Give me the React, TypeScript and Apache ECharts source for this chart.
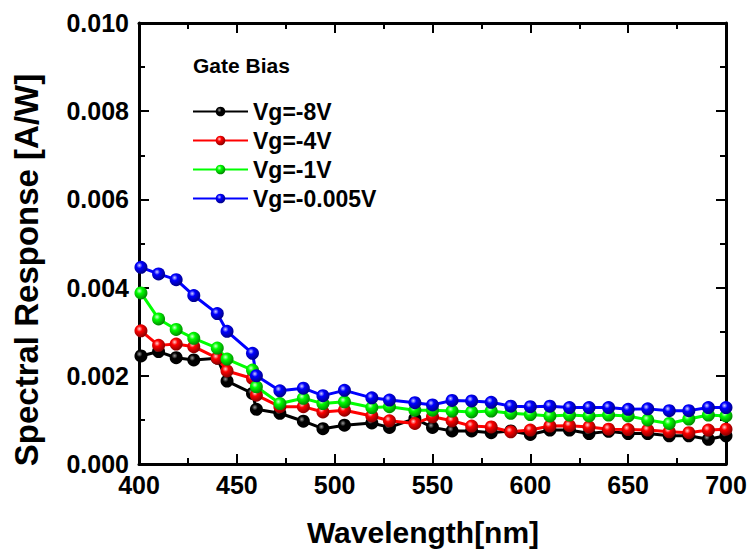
import React, { useEffect, useRef } from "react";
import * as echarts from "echarts";

const wavelengths = [401, 410, 419, 428, 440, 445, 458, 460, 472, 484, 494, 505, 519, 528, 541, 550, 560, 570, 580, 590, 600, 610, 620, 630, 640, 650, 660, 671, 681, 691, 700];

const vg8 = [0.00245, 0.00255, 0.00241, 0.00236, 0.0024, 0.00188, 0.0016, 0.00124, 0.00115, 0.00097, 0.0008, 0.00088, 0.00093, 0.00083, 0.00103, 0.00083, 0.00075, 0.00075, 0.00071, 0.00075, 0.00067, 0.00077, 0.00077, 0.00069, 0.00074, 0.00069, 0.00069, 0.00064, 0.00064, 0.00056, 0.00064];
const vg4 = [0.00302, 0.00269, 0.00272, 0.00266, 0.0024, 0.00211, 0.00194, 0.00156, 0.0013, 0.0013, 0.00118, 0.00122, 0.00109, 0.00098, 0.00092, 0.00107, 0.00098, 0.00086, 0.00084, 0.00073, 0.00077, 0.00086, 0.00087, 0.00084, 0.00079, 0.00078, 0.00077, 0.00073, 0.00071, 0.00077, 0.00079];
const vg1 = [0.00388, 0.00329, 0.00305, 0.00285, 0.00263, 0.00238, 0.00213, 0.00175, 0.00137, 0.00149, 0.00137, 0.00141, 0.00128, 0.0013, 0.00122, 0.00122, 0.0012, 0.00118, 0.0012, 0.00115, 0.00112, 0.00109, 0.00111, 0.00109, 0.00111, 0.00109, 0.001, 0.00092, 0.00102, 0.00111, 0.00109];
const vg0005 = [0.00446, 0.00431, 0.00418, 0.00382, 0.00341, 0.00301, 0.00251, 0.002, 0.00166, 0.00172, 0.00155, 0.00167, 0.0015, 0.00145, 0.00139, 0.00134, 0.00144, 0.00143, 0.0014, 0.00131, 0.0013, 0.00131, 0.00128, 0.00128, 0.00128, 0.00124, 0.00125, 0.00121, 0.00121, 0.00128, 0.00128];

const seriesNames = ["Vg=-8V", "Vg=-4V", "Vg=-1V", "Vg=-0.005V"];
const seriesColors = ["#000000", "#ff0000", "#00ff00", "#0000ff"];
const seriesDark = ["#000000", "#8a0000", "#008a00", "#00008a"];
const seriesLight = ["#9a9a9a", "#ffd0d0", "#d0ffd0", "#d0d0ff"];
const seriesValues = [vg8, vg4, vg1, vg0005];

const FONT = "'Liberation Sans', Arial, Helvetica, sans-serif";

export default function App() {
  const ref = useRef<HTMLDivElement>(null);
  useEffect(() => {
    document.body.style.margin = "0";
    if (!ref.current) return;
    const chart = echarts.init(ref.current, undefined, { renderer: "svg" });
    const axisCommon = {
      axisLine: { show: true, onZero: false, lineStyle: { color: "#000", width: 3 } },
      axisTick: { show: true, inside: true, length: 10, lineStyle: { color: "#000", width: 2 } },
      minorTick: { show: true, splitNumber: 2, length: 6, lineStyle: { color: "#000", width: 2 } },
      splitLine: { show: false },
    };
    const labelStyle = { color: "#000", fontFamily: FONT, fontWeight: "bold" as const, fontSize: 25 };
    chart.setOption({
      animation: false,
      backgroundColor: "#fff",
      grid: { left: 139, right: 25, top: 23, bottom: 90 },
      xAxis: [
        { type: "value", min: 400, max: 700, interval: 50, position: "bottom", ...axisCommon, axisLabel: { ...labelStyle, margin: 8 } },
        { type: "value", min: 400, max: 700, interval: 50, position: "top", ...axisCommon, axisLabel: { show: false } },
      ],
      yAxis: [
        { type: "value", min: 0, max: 0.01, interval: 0.002, position: "left", ...axisCommon, axisLabel: { ...labelStyle, margin: 10, formatter: (v: number) => v.toFixed(3) } },
        { type: "value", min: 0, max: 0.01, interval: 0.002, position: "right", ...axisCommon, axisLabel: { show: false } },
      ],
      legend: {
        orient: "vertical",
        left: 187,
        top: 95,
        itemWidth: 55,
        itemHeight: 12,
        itemGap: 6,
        data: seriesNames,
        textStyle: { color: "#000", fontFamily: FONT, fontWeight: "bold", fontSize: 23, lineHeight: 23 },
      },
      graphic: [
        { type: "text", left: 193, top: 55, style: { text: "Gate Bias", fill: "#000", font: `bold 21px ${FONT}` } },
        { type: "text", x: 26, y: 270, rotation: Math.PI / 2, style: { text: "Spectral Response [A/W]", fill: "#000", font: `bold 33px ${FONT}`, textAlign: "center", textVerticalAlign: "middle" } },
        { type: "text", x: 423, y: 532, style: { text: "Wavelength[nm]", fill: "#000", font: `bold 30px ${FONT}`, textAlign: "center", textVerticalAlign: "middle" } },
      ],
      series: seriesNames.map((name, i) => ({
        name,
        type: "line",
        data: wavelengths.map((w, j) => [w, seriesValues[i][j]]),
        symbol: "circle",
        symbolSize: 13,
        lineStyle: { color: seriesColors[i], width: 3 },
        itemStyle: {
          color: {
            type: "radial",
            x: 0.38,
            y: 0.35,
            r: 0.65,
            colorStops: [
              { offset: 0, color: seriesLight[i] },
              { offset: 0.35, color: seriesColors[i] },
              { offset: 1, color: seriesDark[i] },
            ],
          },
          borderWidth: 0,
        },
      })),
    });
    return () => chart.dispose();
  }, []);
  return <div ref={ref} style={{ width: 751, height: 554 }} />;
}
